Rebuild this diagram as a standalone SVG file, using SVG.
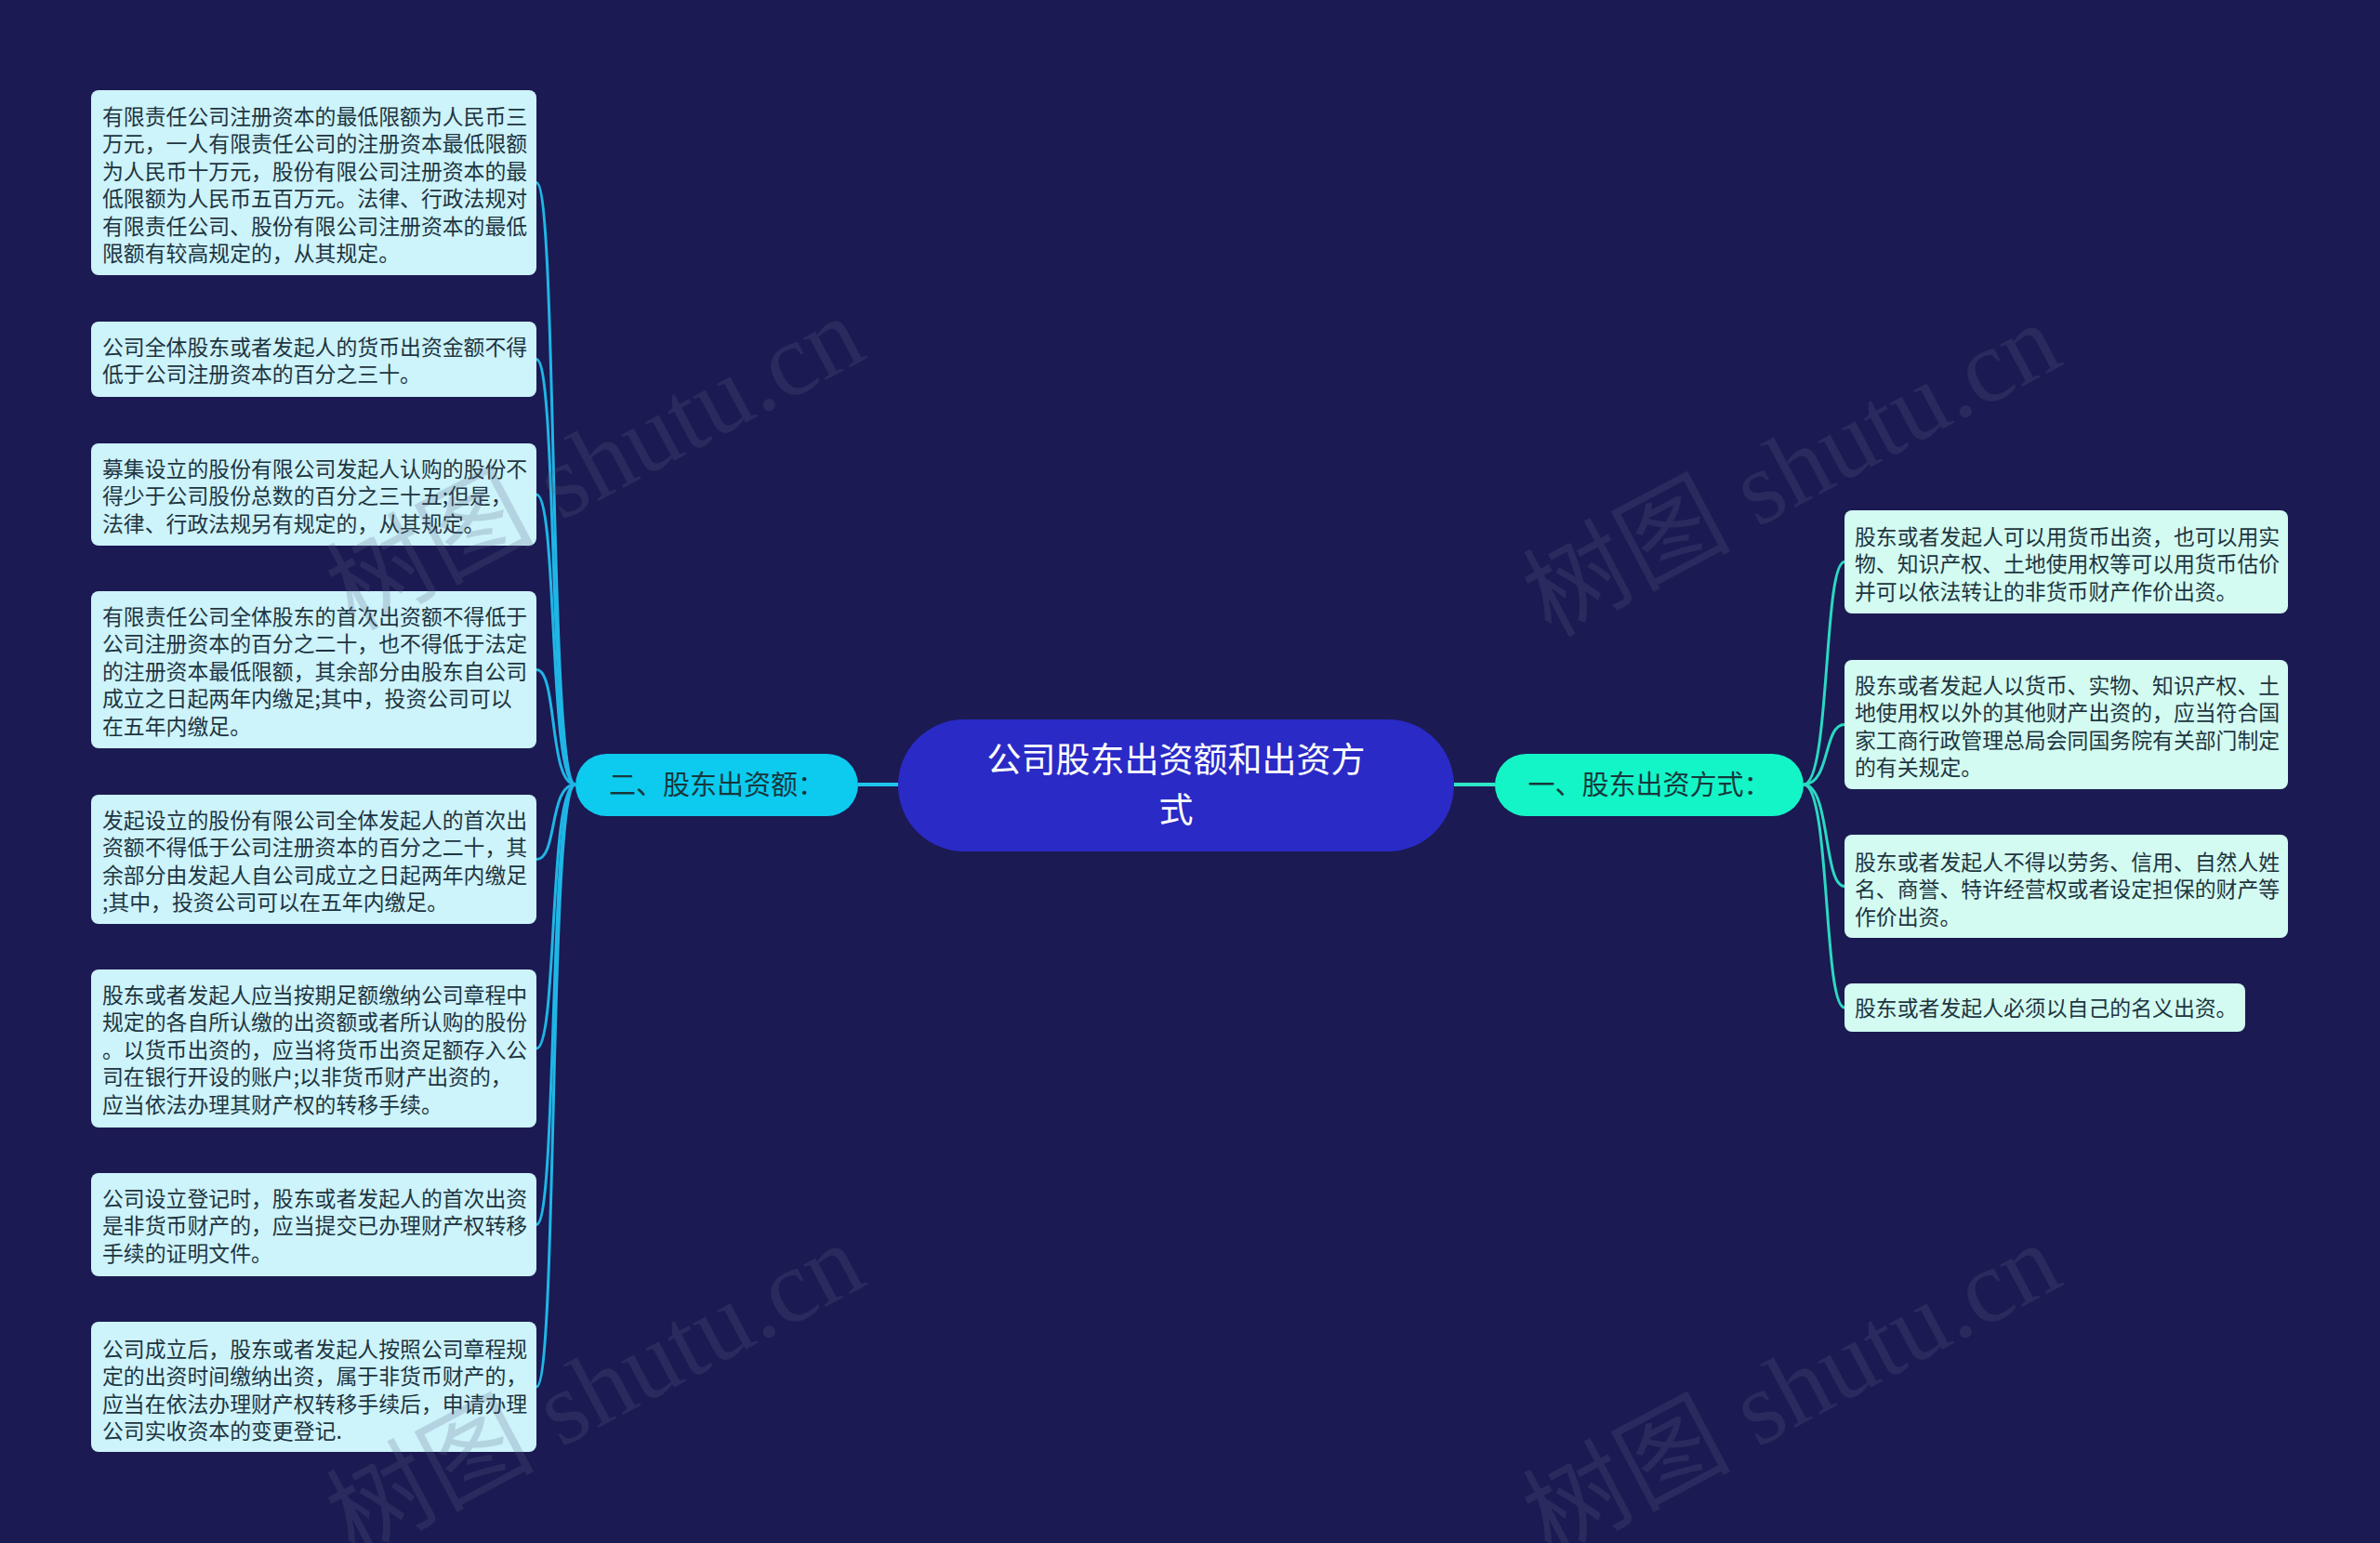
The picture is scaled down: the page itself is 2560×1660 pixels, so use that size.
<svg xmlns="http://www.w3.org/2000/svg" width="2560" height="1660" viewBox="0 0 2560 1660">
<defs>
<style>
.bg{fill:#1b1a52}
.lbox{fill:#cdf3fb}
.rbox{fill:#d3fbf1}
.t{font-family:"Noto Sans CJK SC","Noto Sans",sans-serif;font-size:22.86px;fill:#1e3540}
.mt{font-family:"Noto Sans CJK SC","Noto Sans",sans-serif;font-size:29px;fill:#16383c;text-anchor:middle}
.ct{font-family:"Noto Sans CJK SC","Noto Sans",sans-serif;font-size:37px;fill:#ffffff;text-anchor:middle}
.lc{fill:none;stroke:#1fb6e6;stroke-width:3}
.rc{fill:none;stroke:#2bd9c2;stroke-width:3}
.wm{font-family:"Liberation Serif","Noto Sans CJK SC",serif;font-size:112px;fill:#5a6685;fill-opacity:0.22;text-anchor:middle;dominant-baseline:central}
</style>
</defs>
<rect class="bg" x="0" y="0" width="2560" height="1660"/>

<g id="connectors">
<line x1="923" y1="844" x2="966" y2="844" stroke="#1fc4ee" stroke-width="4"/>
<line x1="1564" y1="844" x2="1608" y2="844" stroke="#2ee6c8" stroke-width="4"/>
<path class="lc" d="M619,844 C590,844 600,196.5 577,196.5"/>
<path class="lc" d="M619,844 C590,844 600,386.5 577,386.5"/>
<path class="lc" d="M619,844 C590,844 600,532 577,532"/>
<path class="lc" d="M619,844 C590,844 600,720.5 577,720.5"/>
<path class="lc" d="M619,844 C590,844 600,924.5 577,924.5"/>
<path class="lc" d="M619,844 C590,844 600,1128 577,1128"/>
<path class="lc" d="M619,844 C590,844 600,1317.5 577,1317.5"/>
<path class="lc" d="M619,844 C590,844 600,1492 577,1492"/>
<path class="rc" d="M1940,844 C1969,844 1961,604.5 1984,604.5"/>
<path class="rc" d="M1940,844 C1969,844 1961,779.5 1984,779.5"/>
<path class="rc" d="M1940,844 C1969,844 1961,953.5 1984,953.5"/>
<path class="rc" d="M1940,844 C1969,844 1961,1084 1984,1084"/>
</g>

<g id="root">
<rect x="966" y="774" width="598" height="142" rx="71" fill="#2a2ac6"/>
<text class="ct" x="1265" y="831">公司股东出资额和出资方</text>
<text class="ct" x="1265" y="885">式</text>
</g>

<g id="branch-left">
<rect x="619" y="811" width="304" height="67" rx="33.5" fill="#0ccbef"/>
<text class="mt" x="771" y="855">二、股东出资额：</text>
</g>

<g id="branch-right">
<rect x="1608" y="811" width="332" height="67" rx="33.5" fill="#14f5c7"/>
<text class="mt" x="1774" y="855">一、股东出资方式：</text>
</g>

<g id="l1">
<rect class="lbox" x="98" y="97" width="479" height="199" rx="8"/>
<text class="t" x="110" y="134">有限责任公司注册资本的最低限额为人民币三</text>
<text class="t" x="110" y="163.4">万元，一人有限责任公司的注册资本最低限额</text>
<text class="t" x="110" y="192.8">为人民币十万元，股份有限公司注册资本的最</text>
<text class="t" x="110" y="222.2">低限额为人民币五百万元。法律、行政法规对</text>
<text class="t" x="110" y="251.6">有限责任公司、股份有限公司注册资本的最低</text>
<text class="t" x="110" y="281">限额有较高规定的，从其规定。</text>
</g>

<g id="l2">
<rect class="lbox" x="98" y="346" width="479" height="81" rx="8"/>
<text class="t" x="110" y="382">公司全体股东或者发起人的货币出资金额不得</text>
<text class="t" x="110" y="411.4">低于公司注册资本的百分之三十。</text>
</g>

<g id="l3">
<rect class="lbox" x="98" y="477" width="479" height="110" rx="8"/>
<text class="t" x="110" y="513">募集设立的股份有限公司发起人认购的股份不</text>
<text class="t" x="110" y="542.4">得少于公司股份总数的百分之三十五;但是，</text>
<text class="t" x="110" y="571.8">法律、行政法规另有规定的，从其规定。</text>
</g>

<g id="l4">
<rect class="lbox" x="98" y="636" width="479" height="169" rx="8"/>
<text class="t" x="110" y="672">有限责任公司全体股东的首次出资额不得低于</text>
<text class="t" x="110" y="701.4">公司注册资本的百分之二十，也不得低于法定</text>
<text class="t" x="110" y="730.8">的注册资本最低限额，其余部分由股东自公司</text>
<text class="t" x="110" y="760.2">成立之日起两年内缴足;其中，投资公司可以</text>
<text class="t" x="110" y="789.6">在五年内缴足。</text>
</g>

<g id="l5">
<rect class="lbox" x="98" y="855" width="479" height="139" rx="8"/>
<text class="t" x="110" y="891">发起设立的股份有限公司全体发起人的首次出</text>
<text class="t" x="110" y="920.4">资额不得低于公司注册资本的百分之二十，其</text>
<text class="t" x="110" y="949.8">余部分由发起人自公司成立之日起两年内缴足</text>
<text class="t" x="110" y="979.2">;其中，投资公司可以在五年内缴足。</text>
</g>

<g id="l6">
<rect class="lbox" x="98" y="1043" width="479" height="170" rx="8"/>
<text class="t" x="110" y="1079">股东或者发起人应当按期足额缴纳公司章程中</text>
<text class="t" x="110" y="1108.4">规定的各自所认缴的出资额或者所认购的股份</text>
<text class="t" x="110" y="1137.8">。以货币出资的，应当将货币出资足额存入公</text>
<text class="t" x="110" y="1167.2">司在银行开设的账户;以非货币财产出资的，</text>
<text class="t" x="110" y="1196.6">应当依法办理其财产权的转移手续。</text>
</g>

<g id="l7">
<rect class="lbox" x="98" y="1262" width="479" height="111" rx="8"/>
<text class="t" x="110" y="1298">公司设立登记时，股东或者发起人的首次出资</text>
<text class="t" x="110" y="1327.4">是非货币财产的，应当提交已办理财产权转移</text>
<text class="t" x="110" y="1356.8">手续的证明文件。</text>
</g>

<g id="l8">
<rect class="lbox" x="98" y="1422" width="479" height="140" rx="8"/>
<text class="t" x="110" y="1460">公司成立后，股东或者发起人按照公司章程规</text>
<text class="t" x="110" y="1489.4">定的出资时间缴纳出资，属于非货币财产的，</text>
<text class="t" x="110" y="1518.8">应当在依法办理财产权转移手续后，申请办理</text>
<text class="t" x="110" y="1548.2">公司实收资本的变更登记.</text>
</g>

<g id="r1">
<rect class="rbox" x="1984" y="549" width="477" height="111" rx="8"/>
<text class="t" x="1995" y="586">股东或者发起人可以用货币出资，也可以用实</text>
<text class="t" x="1995" y="615.4">物、知识产权、土地使用权等可以用货币估价</text>
<text class="t" x="1995" y="644.8">并可以依法转让的非货币财产作价出资。</text>
</g>

<g id="r2">
<rect class="rbox" x="1984" y="710" width="477" height="139" rx="8"/>
<text class="t" x="1995" y="746">股东或者发起人以货币、实物、知识产权、土</text>
<text class="t" x="1995" y="775.4">地使用权以外的其他财产出资的，应当符合国</text>
<text class="t" x="1995" y="804.8">家工商行政管理总局会同国务院有关部门制定</text>
<text class="t" x="1995" y="834.2">的有关规定。</text>
</g>

<g id="r3">
<rect class="rbox" x="1984" y="898" width="477" height="111" rx="8"/>
<text class="t" x="1995" y="936">股东或者发起人不得以劳务、信用、自然人姓</text>
<text class="t" x="1995" y="965.4">名、商誉、特许经营权或者设定担保的财产等</text>
<text class="t" x="1995" y="994.8">作价出资。</text>
</g>

<g id="r4">
<rect class="rbox" x="1984" y="1058" width="431" height="52" rx="8"/>
<text class="t" x="1995" y="1093">股东或者发起人必须以自己的名义出资。</text>
</g>

<g id="watermark">
<text class="wm" transform="translate(640,498) rotate(-28)">树图 shutu.cn</text>
<text class="wm" transform="translate(1927,505) rotate(-28)">树图 shutu.cn</text>
<text class="wm" transform="translate(640,1495) rotate(-28)">树图 shutu.cn</text>
<text class="wm" transform="translate(1927,1495) rotate(-28)">树图 shutu.cn</text>
</g>
</svg>
